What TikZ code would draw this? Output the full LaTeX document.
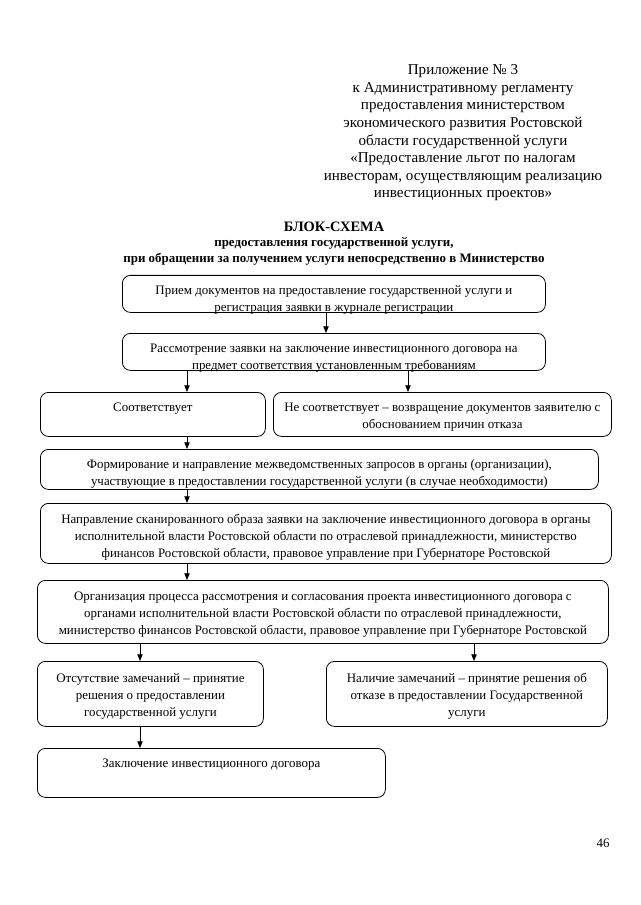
\documentclass[tikz,border=0pt]{standalone}
\usepackage{fontspec}
\setmainfont{Liberation Serif}
\usetikzlibrary{arrows.meta}
\tikzset{
  blk/.style={draw, line width=0.6pt, rounded corners=6pt, anchor=north west, inner sep=0pt},
  blktxt/.style={anchor=north, align=center, inner sep=0pt, font=\fontsize{9.7}{12.8}\selectfont},
  arr/.style={line width=0.6pt, -{Triangle[length=5pt,width=4pt]}},
}
\begin{document}
\begin{tikzpicture}[x=0.75pt,y=0.75pt,yscale=-1,xscale=1]
\useasboundingbox (0,0) rectangle (640,905);

% Text Node
\draw (463,64.5) node (head) [anchor=north][inner sep=0pt][align=center][font=\fontsize{11.3}{13.2}\selectfont] {Приложение № 3\\к Административному регламенту\\предоставления министерством\\экономического развития Ростовской\\области государственной услуги\\«Предоставление льгот по налогам\\инвесторам, осуществляющим реализацию\\инвестиционных проектов»};
% Text Node
\draw (334,231.5) node (title) [anchor=base][inner sep=0pt][font=\fontsize{10.8}{12}\selectfont\bfseries] {БЛОК-СХЕМА};
% Text Node
\draw (334,237) node (subt) [anchor=north][inner sep=0pt][align=center][font=\fontsize{9.7}{12}\selectfont\bfseries] {предоставления государственной услуги,\\при обращении за получением услуги непосредственно в Министерство};

%Shape: Rounded Rect
\node (b1) [blk, minimum width=317.25pt, minimum height=27.75pt] at (122,275) {};
\node (b2) [blk, minimum width=317.25pt, minimum height=27.75pt] at (122,333) {};
\node (b3) [blk, minimum width=168.75pt, minimum height=33pt] at (40,392) {};
\node (b4) [blk, minimum width=253.5pt, minimum height=33pt] at (273,392) {};
\node (b5) [blk, minimum width=418.5pt, minimum height=30pt] at (40,449) {};
\node (b6) [blk, minimum width=428.25pt, minimum height=45pt] at (40,503) {};
\node (b7) [blk, minimum width=428.25pt, minimum height=47.25pt] at (37,580) {};
\node (b8) [blk, minimum width=169.5pt, minimum height=48.75pt] at (37,661) {};
\node (b9) [blk, minimum width=210.75pt, minimum height=48.75pt] at (326,661) {};
\node (b10) [blk, minimum width=261pt, minimum height=36.75pt] at (37,748) {};

% Text Node
\node (t1) [blktxt, yshift=-8pt] at (b1.north) {Прием документов на предоставление государственной услуги и\\регистрация заявки в журнале регистрации};
\node (t2) [blktxt, yshift=-8pt] at (b2.north) {Рассмотрение заявки на заключение инвестиционного договора на\\предмет соответствия установленным требованиям};
\node (t3) [blktxt, yshift=-8pt] at (b3.north) {Соответствует};
\node (t4) [blktxt, yshift=-8pt] at (b4.north) {Не соответствует – возвращение документов заявителю с\\обоснованием причин отказа};
\node (t5) [blktxt, yshift=-8pt] at (b5.north) {Формирование и направление межведомственных запросов в органы (организации),\\участвующие в предоставлении государственной услуги (в случае необходимости)};
\node (t6) [blktxt, yshift=-8.5pt] at (b6.north) {Направление сканированного образа заявки на заключение инвестиционного договора в органы\\исполнительной власти Ростовской области по отраслевой принадлежности, министерство\\финансов Ростовской области, правовое управление при Губернаторе Ростовской};
\node (t7) [blktxt, yshift=-8.5pt] at (b7.north) {Организация процесса рассмотрения и согласования проекта инвестиционного договора с\\органами исполнительной власти Ростовской области по отраслевой принадлежности,\\министерство финансов Ростовской области, правовое управление при Губернаторе Ростовской};
\node (t8) [blktxt, yshift=-9pt] at (b8.north) {Отсутствие замечаний – принятие\\решения о предоставлении\\государственной услуги};
\node (t9) [blktxt, yshift=-9pt] at (b9.north) {Наличие замечаний – принятие решения об\\отказе в предоставлении Государственной\\услуги};
\node (t10) [blktxt, yshift=-8pt] at (b10.north) {Заключение инвестиционного договора};

%Straight Lines
\coordinate (cA) at (326,0);
\coordinate (cB) at (187,0);
\coordinate (cC) at (408,0);
\coordinate (cD) at (140,0);
\coordinate (cE) at (474,0);
\draw [arr] (b1.south -| cA) -- (b2.north -| cA);
\draw [arr] (b2.south -| cB) -- (b3.north -| cB);
\draw [arr] (b2.south -| cC) -- (b4.north -| cC);
\draw [arr] (b3.south -| cB) -- (b5.north -| cB);
\draw [arr] (b5.south -| cB) -- (b6.north -| cB);
\draw [arr] (b6.south -| cB) -- (b7.north -| cB);
\draw [arr] (b7.south -| cD) -- (b8.north -| cD);
\draw [arr] (b7.south -| cE) -- (b9.north -| cE);
\draw [arr] (b8.south -| cD) -- (b10.north -| cD);

% Text Node
\draw (603,847) node (pnum) [anchor=base][inner sep=0pt][font=\fontsize{9.7}{12}\selectfont] {46};

\end{tikzpicture}
\end{document}
